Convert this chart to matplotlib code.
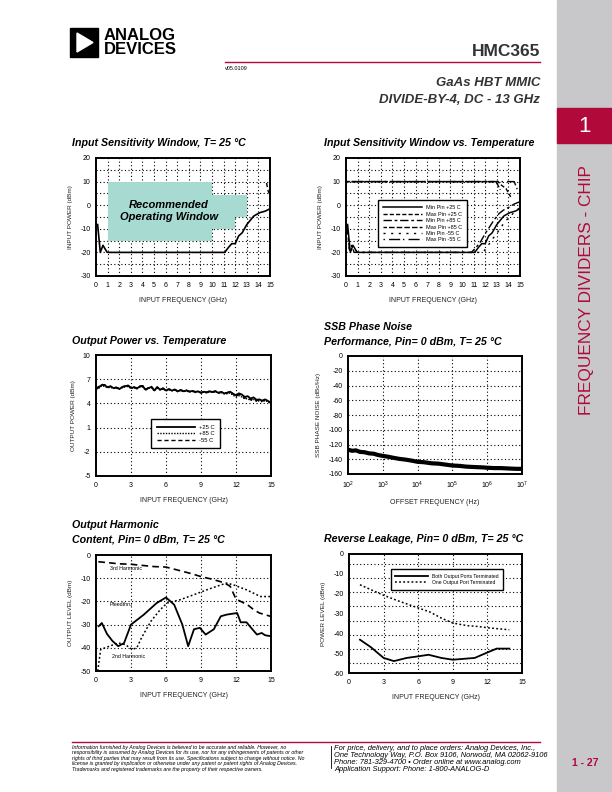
import numpy as np
import matplotlib
matplotlib.use("Agg")
import matplotlib.pyplot as plt
from matplotlib.patches import Rectangle, Polygon

plt.rcParams['font.family'] = ['Liberation Sans', 'DejaVu Sans']
plt.rcParams['axes.unicode_minus'] = False

RED = '#B0093A'
GRAY = '#C8C8CA'
TEAL = '#A7DBD1'
W, H = 612, 792

# ---- data read from the datasheet page ----
# input sensitivity window, T = 25 C
win_x = [1, 10, 10, 12, 12, 13, 13, 10, 10, 1]
win_y = [-15, -15, -10, -10, -5, -5, 4.5, 4.5, 10, 10]
s25_f = [0.14, 0.37, 0.6, 0.95, 1.1, 11.1, 11.4, 11.7, 12.0, 12.3, 12.6, 13.0, 13.6, 14.1, 14.6, 15.0]
s25_min = [-8.2, -20, -17, -19.9, -20, -20, -18, -16.3, -16.3, -13, -11.7, -8.2, -4.6, -3.2, -2.5, -1.5]
s25_maxf = [14.7, 14.85, 15.0]
s25_max = [9.4, 5.9, 4.5]

# input sensitivity window vs temperature
t_min25_f = s25_f
t_min25 = s25_min
t_max25_f = [0, 13.1, 13.4, 13.8, 14.2]
t_max25 = [10, 10, 8.5, 7.0, 3.5]
t_min85_f = [0.1, 0.3, 0.5, 0.7, 1.0, 10.8, 11.2, 11.6, 12.0, 12.4, 12.8, 13.2, 13.6, 14.0, 14.5, 15.0]
t_min85 = [-9, -19, -17, -20, -20, -20, -18, -15.5, -12, -9, -6, -3.5, -2, -1, 0.5, 1.5]
t_max85_f = [0, 12.9, 13.1, 13.3]
t_max85 = [10, 10, 8.5, 6.5]
t_minm55_f = [0.1, 0.3, 0.6, 1.0, 11.8, 12.2, 12.6, 13.0, 13.4, 13.8, 14.2, 14.6, 15.0]
t_minm55 = [-8, -20, -18, -20, -20, -17.5, -14.5, -12, -9, -6.5, -4.5, -2.5, -1]
t_maxm55_f = [0, 14.5, 14.7, 14.9]
t_maxm55 = [10, 10, 7.5, 5.0]

# output power vs temperature (0 .. 15 GHz, 0.25 GHz step)
op_f = np.linspace(0, 15, 61)
op_p25 = [5.8, 6.0, 6.3, 6.25, 6.0, 6.1, 5.9, 5.95, 5.8, 6.0, 6.15, 6.2, 5.9, 6.0, 5.85, 6.1,
          6.15, 5.7, 5.9, 6.05, 5.6, 6.0, 5.7, 5.85, 5.6, 5.75, 5.6, 5.7, 5.5, 5.65, 5.5, 5.6,
          5.45, 5.55, 5.4, 5.5, 5.3, 5.45, 5.35, 5.5, 5.4, 5.5, 5.3, 5.4, 5.25, 5.3, 5.45, 5.2,
          5.0, 5.25, 5.1, 4.8, 4.9, 4.6, 4.75, 4.45, 4.5, 4.35, 4.5, 4.3, 4.05]
op_p85 = [5.7, 5.9, 6.2, 6.1, 5.95, 6.0, 5.85, 5.9, 5.75, 5.95, 6.05, 6.1, 5.85, 5.95, 5.8, 6.0,
          6.05, 5.65, 5.85, 5.95, 5.55, 5.9, 5.65, 5.8, 5.55, 5.7, 5.55, 5.65, 5.45, 5.6, 5.45, 5.55,
          5.4, 5.5, 5.35, 5.45, 5.3, 5.4, 5.3, 5.45, 5.35, 5.45, 5.25, 5.35, 5.15, 5.2, 5.3, 5.0,
          4.8, 4.95, 4.8, 4.55, 4.6, 4.35, 4.5, 4.25, 4.3, 4.2, 4.35, 4.2, 4.0]
op_m55 = [5.9, 6.1, 6.35, 6.3, 6.05, 6.15, 5.95, 6.0, 5.85, 6.05, 6.2, 6.25, 5.95, 6.05, 5.9, 6.15,
          6.2, 5.75, 5.95, 6.1, 5.65, 6.05, 5.75, 5.9, 5.65, 5.8, 5.65, 5.75, 5.55, 5.7, 5.55, 5.65,
          5.5, 5.6, 5.45, 5.55, 5.35, 5.5, 5.4, 5.55, 5.45, 5.55, 5.35, 5.45, 5.3, 5.35, 5.5, 5.15,
          4.9, 5.1, 4.95, 4.65, 4.7, 4.45, 4.6, 4.35, 4.4, 4.3, 4.45, 4.25, 4.05]

# SSB phase noise
pn_f = [100, 130, 170, 220, 300, 400, 550, 700, 1e3, 1.4e3, 2e3, 3e3, 4.5e3, 7e3, 1e4, 1.5e4,
        2.5e4, 4e4, 7e4, 1e5, 1.6e5, 2.5e5, 4e5, 7e5, 1e6, 1.6e6, 2.5e6, 4e6, 7e6, 1e7]
pn = [-127, -128.5, -128, -130, -130.5, -132, -132.5, -134, -135.5, -136.5, -138, -139.5, -140.5,
      -142, -143.5, -144, -145.5, -146, -147.5, -148.5, -149, -150, -150.5, -151, -151.5, -152,
      -152, -152.5, -153, -153]

# output harmonic content
h3_f = [0.2, 1, 2, 3, 4, 5, 6, 7, 8, 9, 10, 11, 11.5, 12, 13, 13.5, 14, 15]
h3 = [-2.9, -3.3, -3.8, -4.0, -4.5, -5.0, -5.2, -6.5, -7.8, -9.3, -10.5, -12, -13.5, -19, -21.5, -23.5, -25, -26.5]
pf_f = [0.23, 0.5, 0.94, 1.4, 1.9, 2.4, 3.0, 4.1, 5.2, 6.0, 6.7, 7.4, 7.9, 8.4, 8.9, 9.4, 10.1,
        10.7, 11.2, 12.1, 12.4, 12.9, 13.4, 13.8, 14.2, 14.5, 15.0]
pf = [-30.7, -29.3, -34, -37, -39.3, -38, -30, -25.7, -20.7, -18.3, -21.4, -30, -39.3, -32,
      -31.4, -34.3, -32, -26.4, -25.7, -25, -29, -29, -32, -34.3, -33.6, -34.6, -35]
h2_f = [0.15, 0.4, 0.95, 1.9, 2.5, 3.1, 3.5, 3.9, 4.7, 5.5, 6.1, 7.2, 8.4, 9.5, 10.7, 11.2, 11.8,
        12.9, 14.1, 15.0]
h2 = [-50, -40.7, -39.7, -37.9, -38.6, -40.7, -40, -35.7, -28.6, -23.6, -20.7, -19.3, -17.1, -15,
      -12.9, -12.1, -12.9, -15, -17.9, -17.9]

# reverse leakage
rl_f = [0.95, 1.9, 3, 3.9, 5, 6, 6.9, 8, 9, 10.9, 11.9, 12.8, 13.9]
rl_both = [-43.2, -47, -52.4, -54, -52.4, -51.6, -50.8, -52.4, -53.3, -52.4, -49.9, -47.7, -47.7]
rl_f2 = [0.95, 1.9, 3, 4.2, 6, 7, 8, 9, 10.2, 11.1, 12.2, 13.9]
rl_one = [-15.5, -18, -20.8, -23.5, -27.2, -29.2, -32.3, -34.8, -36.1, -36.5, -37.3, -38.2]

fig = plt.figure(figsize=(W / 100, H / 100), dpi=100)


def px_axes(l, t, r, b):
    return fig.add_axes([l / W, 1 - b / H, (r - l) / W, (b - t) / H])


def ftext(x, y, s, **kw):
    fig.text(x / W, 1 - y / H, s, **kw)


def style(ax, xlabel, ylabel, xgrid, ygrid):
    ax.tick_params(length=0, labelsize=5, pad=4)
    for sp in ax.spines.values():
        sp.set_linewidth(1.4)
    ax.set_xlabel(xlabel, fontsize=5, labelpad=6, color='#222222')
    ax.set_ylabel(ylabel, fontsize=4.6, labelpad=5, color='#222222')
    for g in xgrid:
        ax.axvline(g, color='k', lw=0.8, ls=(0, (1, 2.2)), zorder=1)
    for g in ygrid:
        ax.axhline(g, color='k', lw=0.8, ls=(0, (1, 2.2)), zorder=1)


def leg(ax, anchor, hl, fs=4):
    lg = ax.legend(loc='upper left', bbox_to_anchor=anchor, fontsize=fs, handlelength=hl,
                   frameon=True, fancybox=False, framealpha=1, edgecolor='k',
                   borderpad=0.9, labelspacing=0.25, handletextpad=0.8)
    lg.get_frame().set_linewidth(1.0)
    return lg


# ---- page header ----
fig.patches.append(Rectangle((70 / W, 1 - 57 / H), 28 / W, 29 / H, transform=fig.transFigure,
                             color='k'))
fig.patches.append(Polygon([[77 / W, 1 - 33 / H], [77 / W, 1 - 52 / H], [93 / W, 1 - 42.5 / H]],
                           closed=True, transform=fig.transFigure, color='white'))
ftext(104, 35, 'ANALOG', fontsize=12, fontweight='bold', va='center', ha='left')
ftext(104, 50, 'DEVICES', fontsize=12, fontweight='bold', va='center', ha='left')
ftext(540, 51, 'HMC365', fontsize=12.5, fontweight='bold', va='center', ha='right', color='#333333')
fig.add_artist(plt.Line2D([225 / W, 540 / W], [1 - 62 / H, 1 - 62 / H], color=RED, lw=1.0))
ftext(225, 68, 'v05.0109', fontsize=4, va='center', ha='left')
ftext(540, 83, 'GaAs HBT MMIC', fontsize=9.5, fontweight='bold', style='italic', va='center',
      ha='right', color='#333333')
ftext(540, 100, 'DIVIDE-BY-4, DC - 13 GHz', fontsize=9.5, fontweight='bold', style='italic',
      va='center', ha='right', color='#333333')

# side bar
fig.patches.append(Rectangle((557 / W, 0), (W - 557) / W, 1, transform=fig.transFigure,
                             color=GRAY, zorder=0))
fig.patches.append(Rectangle((557 / W, 1 - 143 / H), (W - 557) / W, 35 / H,
                             transform=fig.transFigure, color=RED, zorder=0))
ftext(585, 126, '1', fontsize=16, color='white', ha='center', va='center')
ftext(587, 290, 'FREQUENCY DIVIDERS - CHIP', fontsize=12.4, color=RED, rotation=90,
      ha='center', va='center')
ftext(585, 763, '1 - 27', fontsize=7.5, fontweight='bold', color=RED, ha='center', va='center')

tkw = dict(fontsize=7.7, fontweight='bold', style='italic', ha='left', va='center')

# ---- chart 1: input sensitivity window ----
ftext(72, 143, 'Input Sensitivity Window, T= 25 °C', **tkw)
ax = px_axes(96, 158, 270, 276)
ax.set_xlim(0, 15)
ax.set_ylim(-30, 20)
ax.set_xticks(range(0, 16))
ax.set_yticks(range(-30, 21, 10))
style(ax, 'INPUT FREQUENCY (GHz)', 'INPUT POWER (dBm)', range(1, 15), range(-25, 20, 5))
ax.fill(win_x, win_y, color=TEAL, lw=0, zorder=2)
ax.text(6.3, -2.5, 'Recommended\nOperating Window', fontsize=8, fontweight='bold', style='italic',
        ha='center', va='center', zorder=3, linespacing=1.2)
ax.plot(s25_f, s25_min, color='k', lw=1.2, zorder=4)
ax.plot(s25_maxf, s25_max, color='k', lw=1.0, ls=(0, (3, 2)), zorder=4)

# ---- chart 2: input sensitivity window vs temperature ----
ftext(324, 143, 'Input Sensitivity Window vs. Temperature', **tkw)
ax = px_axes(346, 158, 520, 276)
ax.set_xlim(0, 15)
ax.set_ylim(-30, 20)
ax.set_xticks(range(0, 16))
ax.set_yticks(range(-30, 21, 10))
style(ax, 'INPUT FREQUENCY (GHz)', 'INPUT POWER (dBm)', range(1, 15), range(-25, 20, 5))
ax.plot(t_min25_f, t_min25, color='k', lw=1.1, label='Min Pin +25 C', zorder=4)
ax.plot(t_max25_f, t_max25, color='k', lw=1.0, ls=(0, (3, 1.5)), label='Max Pin +25 C', zorder=4)
ax.plot(t_min85_f, t_min85, color='k', lw=1.0, ls=(0, (6, 2, 2, 2)), label='Min Pin +85 C', zorder=4)
ax.plot(t_max85_f, t_max85, color='k', lw=1.0, ls=(1.5, (4, 1.5)), label='Max Pin +85 C', zorder=4)
ax.plot(t_minm55_f, t_minm55, color='k', lw=1.0, ls=(0, (1.5, 4)), label='Min Pin -55 C', zorder=4)
ax.plot(t_maxm55_f, t_maxm55, color='k', lw=1.0, ls=(0, (1, 3, 8, 2)), label='Max Pin -55 C', zorder=4)
leg(ax, (0.167, 0.664), 7, fs=4)

# ---- chart 3: output power vs temperature ----
ftext(72, 341, 'Output Power vs. Temperature', **tkw)
ax = px_axes(96, 355, 271, 476)
ax.set_xlim(0, 15)
ax.set_ylim(-5, 10)
ax.set_xticks(range(0, 16, 3))
ax.set_yticks(range(-5, 11, 3))
style(ax, 'INPUT FREQUENCY (GHz)', 'OUTPUT POWER (dBm)', range(3, 15, 3), range(-2, 10, 3))
ax.plot(op_f, op_p25, color='k', lw=1.3, label='+25 C', zorder=4)
ax.plot(op_f, op_p85, color='k', lw=1.0, ls=(0, (1, 1)), label='+85 C', zorder=4)
ax.plot(op_f, op_m55, color='k', lw=1.0, ls=(0, (3, 2)), label='-55 C', zorder=4)
leg(ax, (0.30, 0.493), 6.5, fs=4.2)

# ---- chart 4: SSB phase noise ----
ftext(324, 327, 'SSB Phase Noise', **tkw)
ftext(324, 341, 'Performance, Pin= 0 dBm, T= 25 °C', **tkw)
ax = px_axes(348, 356, 522, 474)
ax.set_xscale('log')
ax.set_xlim(1e2, 1e7)
ax.set_ylim(-160, 0)
ax.set_xticks([1e2, 1e3, 1e4, 1e5, 1e6, 1e7])
ax.minorticks_off()
ax.set_yticks(range(-160, 1, 20))
style(ax, 'OFFSET FREQUENCY (Hz)', 'SSB PHASE NOISE (dBc/Hz)', [1e3, 1e4, 1e5, 1e6],
      range(-140, 0, 20))
ax.plot(pn_f, pn, color='k', lw=3.0, zorder=4)

# ---- chart 5: output harmonic content ----
ftext(72, 525, 'Output Harmonic', **tkw)
ftext(72, 539, 'Content, Pin= 0 dBm, T= 25 °C', **tkw)
ax = px_axes(96, 555, 271, 671)
ax.set_xlim(0, 15)
ax.set_ylim(-50, 0)
ax.set_xticks(range(0, 16, 3))
ax.set_yticks(range(-50, 1, 10))
style(ax, 'INPUT FREQUENCY (GHz)', 'OUTPUT LEVEL (dBm)', range(3, 15, 3), range(-40, 0, 10))
ax.plot(h3_f, h3, color='k', lw=1.2, ls=(0, (4, 2.5)), zorder=4)
ax.plot(pf_f, pf, color='k', lw=1.3, zorder=4)
ax.plot(h2_f, h2, color='k', lw=1.1, ls=(0, (1.2, 1.5)), zorder=4)
ax.text(1.2, -6.0, '3rd Harmonic', fontsize=3.8, ha='left', va='center', zorder=5)
ax.text(1.2, -21.4, 'Pfeedthru', fontsize=3.8, ha='left', va='center', zorder=5)
ax.text(1.4, -43.6, '2nd Harmonic', fontsize=3.8, ha='left', va='center', zorder=5)

# ---- chart 6: reverse leakage ----
ftext(324, 539, 'Reverse Leakage, Pin= 0 dBm, T= 25 °C', **tkw)
ax = px_axes(349, 554, 522, 673)
ax.set_xlim(0, 15)
ax.set_ylim(-60, 0)
ax.set_xticks(range(0, 16, 3))
ax.set_yticks(range(-60, 1, 10))
style(ax, 'INPUT FREQUENCY (GHz)', 'POWER LEVEL (dBm)', range(3, 15, 3), np.linspace(-5, -55, 8))
ax.plot(rl_f, rl_both, color='k', lw=1.3, label='Both Output Ports Terminated', zorder=4)
ax.plot(rl_f2, rl_one, color='k', lw=1.1, ls=(0, (1.2, 1.5)), label='One Output Port Terminated',
        zorder=4)
leg(ax, (0.227, 0.892), 6.5, fs=3.6)

# ---- footer ----
fig.add_artist(plt.Line2D([72 / W, 540 / W], [1 - 742 / H, 1 - 742 / H], color=RED, lw=1.0))
fig.add_artist(plt.Line2D([331 / W, 331 / W], [1 - 746 / H, 1 - 768 / H], color='k', lw=0.6))
disclaimer = ('Information furnished by Analog Devices is believed to be accurate and reliable. However, no\n'
              'responsibility is assumed by Analog Devices for its use, nor for any infringements of patents or other\n'
              'rights of third parties that may result from its use. Specifications subject to change without notice. No\n'
              'license is granted by implication or otherwise under any patent or patent rights of Analog Devices.\n'
              'Trademarks and registered trademarks are the property of their respective owners.')
ftext(72, 745, disclaimer, fontsize=3.75, style='italic', ha='left', va='top', linespacing=1.1)
contact = ('For price, delivery, and to place orders: Analog Devices, Inc.,\n'
           'One Technology Way, P.O. Box 9106, Norwood, MA 02062-9106\n'
           'Phone: 781-329-4700 \u2022 Order online at www.analog.com\n'
           'Application Support: Phone: 1-800-ANALOG-D')
ftext(334, 745, contact, fontsize=5.45, style='italic', ha='left', va='top', linespacing=1.0)

fig.savefig('out.png', dpi=100)
